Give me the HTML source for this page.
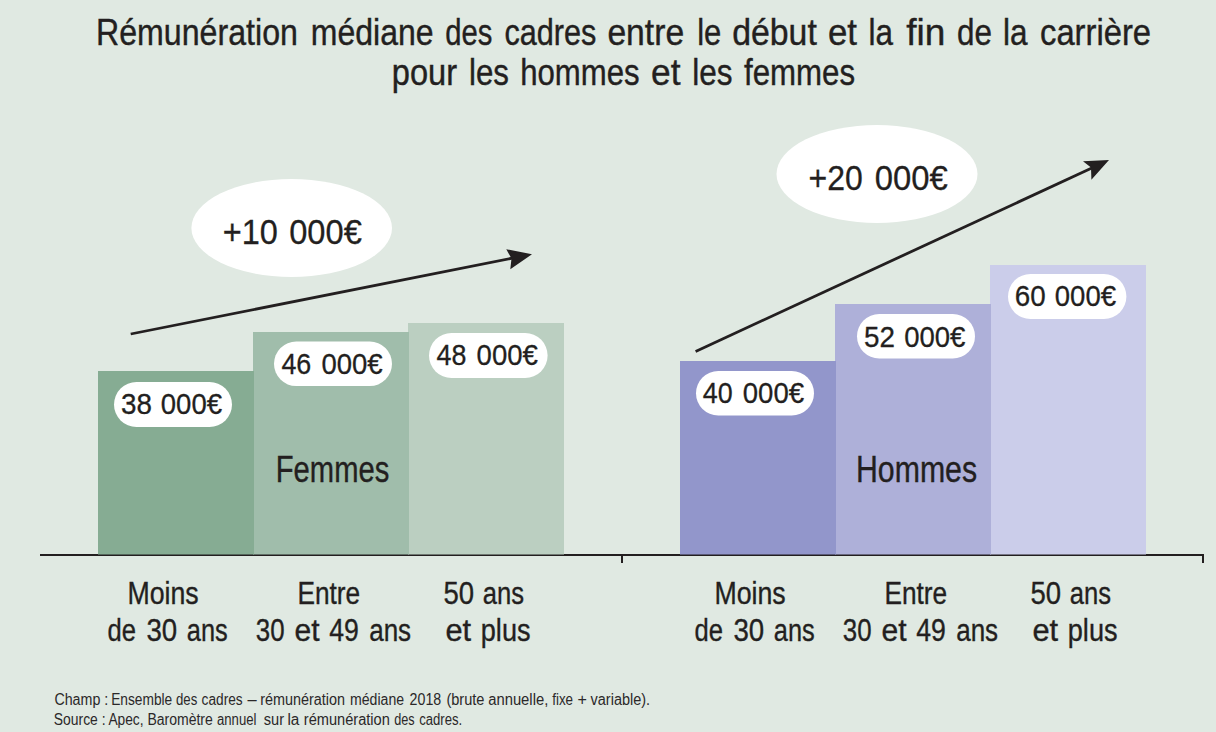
<!DOCTYPE html>
<html><head><meta charset="utf-8">
<style>
html,body{margin:0;padding:0;background:#e0e9e2;}
body{width:1216px;height:732px;overflow:hidden;}
svg{display:block;}
text{font-family:"Liberation Sans",sans-serif;}
</style></head><body>
<svg width="1216" height="732" viewBox="0 0 1216 732">
<rect x="0" y="0" width="1216" height="732" fill="#e0e9e2"/>
<rect x="40" y="554" width="1164" height="2" fill="#231f20"/>
<rect x="621" y="554" width="2" height="9" fill="#231f20"/>
<rect x="1202" y="554" width="2" height="9" fill="#231f20"/>
<rect x="408" y="323" width="156" height="231.5" fill="#bbcfc1"/>
<rect x="253" y="332" width="156" height="222.5" fill="#a0bdab"/>
<rect x="98" y="371" width="156" height="183.5" fill="#86ac93"/>
<rect x="990" y="265" width="156" height="289.5" fill="#cbcdea"/>
<rect x="835" y="304" width="156" height="250.5" fill="#aeb0d9"/>
<rect x="680" y="361" width="156" height="193.5" fill="#9296cb"/>
<rect x="114" y="382" width="118" height="45" rx="22.5" fill="#fff"/>
<rect x="274" y="341.6" width="118" height="44.5" rx="22.25" fill="#fff"/>
<rect x="429" y="333" width="118.6" height="45" rx="22.5" fill="#fff"/>
<rect x="696" y="371" width="118" height="44.5" rx="22.25" fill="#fff"/>
<rect x="857" y="314" width="118" height="44.5" rx="22.25" fill="#fff"/>
<rect x="1008" y="274" width="118.4" height="45" rx="22.5" fill="#fff"/>
<ellipse cx="291.7" cy="228" rx="100.3" ry="49" fill="#fff"/>
<ellipse cx="877" cy="174" rx="100.5" ry="49" fill="#fff"/>
<line x1="130.7" y1="334" x2="515" y2="257.6" stroke="#231f20" stroke-width="2.8"/>
<polygon points="532,254.2 506.3,249.2 511.5,258.6 510.3,269.2" fill="#231f20"/>
<line x1="695.6" y1="351.5" x2="1094" y2="167" stroke="#231f20" stroke-width="2.8"/>
<polygon points="1109,160 1083,161.3 1091,167.5 1091.4,179.75" fill="#231f20"/>
<text x="96.00" y="44.7" font-size="36" fill="#231f20" stroke="#231f20" stroke-width="0.4" textLength="201.89" lengthAdjust="spacingAndGlyphs">Rémunération</text>
<text x="310.80" y="44.7" font-size="36" fill="#231f20" stroke="#231f20" stroke-width="0.4" textLength="122.71" lengthAdjust="spacingAndGlyphs">médiane</text>
<text x="445.20" y="44.7" font-size="36" fill="#231f20" stroke="#231f20" stroke-width="0.4" textLength="47.09" lengthAdjust="spacingAndGlyphs">des</text>
<text x="504.40" y="44.7" font-size="36" fill="#231f20" stroke="#231f20" stroke-width="0.4" textLength="91.88" lengthAdjust="spacingAndGlyphs">cadres</text>
<text x="607.40" y="44.7" font-size="36" fill="#231f20" stroke="#231f20" stroke-width="0.4" textLength="76.72" lengthAdjust="spacingAndGlyphs">entre</text>
<text x="697.20" y="44.7" font-size="36" fill="#231f20" stroke="#231f20" stroke-width="0.4" textLength="24.12" lengthAdjust="spacingAndGlyphs">le</text>
<text x="732.20" y="44.7" font-size="36" fill="#231f20" stroke="#231f20" stroke-width="0.4" textLength="84.62" lengthAdjust="spacingAndGlyphs">début</text>
<text x="828.00" y="44.7" font-size="36" fill="#231f20" stroke="#231f20" stroke-width="0.4" textLength="29.04" lengthAdjust="spacingAndGlyphs">et</text>
<text x="868.60" y="44.7" font-size="36" fill="#231f20" stroke="#231f20" stroke-width="0.4" textLength="24.49" lengthAdjust="spacingAndGlyphs">la</text>
<text x="906.20" y="44.7" font-size="36" fill="#231f20" stroke="#231f20" stroke-width="0.4" textLength="39.08" lengthAdjust="spacingAndGlyphs">fin</text>
<text x="957.00" y="44.7" font-size="36" fill="#231f20" stroke="#231f20" stroke-width="0.4" textLength="34.93" lengthAdjust="spacingAndGlyphs">de</text>
<text x="1003.00" y="44.7" font-size="36" fill="#231f20" stroke="#231f20" stroke-width="0.4" textLength="24.54" lengthAdjust="spacingAndGlyphs">la</text>
<text x="1040.00" y="44.7" font-size="36" fill="#231f20" stroke="#231f20" stroke-width="0.4" textLength="111.04" lengthAdjust="spacingAndGlyphs">carrière</text>
<text x="391.80" y="84.5" font-size="36" fill="#231f20" stroke="#231f20" stroke-width="0.4" textLength="65.25" lengthAdjust="spacingAndGlyphs">pour</text>
<text x="469.00" y="84.5" font-size="36" fill="#231f20" stroke="#231f20" stroke-width="0.4" textLength="39.94" lengthAdjust="spacingAndGlyphs">les</text>
<text x="520.20" y="84.5" font-size="36" fill="#231f20" stroke="#231f20" stroke-width="0.4" textLength="119.47" lengthAdjust="spacingAndGlyphs">hommes</text>
<text x="651.00" y="84.5" font-size="36" fill="#231f20" stroke="#231f20" stroke-width="0.4" textLength="29.44" lengthAdjust="spacingAndGlyphs">et</text>
<text x="692.20" y="84.5" font-size="36" fill="#231f20" stroke="#231f20" stroke-width="0.4" textLength="40.29" lengthAdjust="spacingAndGlyphs">les</text>
<text x="744.00" y="84.5" font-size="36" fill="#231f20" stroke="#231f20" stroke-width="0.4" textLength="111.01" lengthAdjust="spacingAndGlyphs">femmes</text>
<text x="121.00" y="414" font-size="29.5" fill="#231f20" stroke="#231f20" stroke-width="0.3" textLength="30.95" lengthAdjust="spacingAndGlyphs">38</text>
<text x="160.80" y="414" font-size="29.5" fill="#231f20" stroke="#231f20" stroke-width="0.3" textLength="61.23" lengthAdjust="spacingAndGlyphs">000€</text>
<text x="281.40" y="373.8" font-size="29.5" fill="#231f20" stroke="#231f20" stroke-width="0.3" textLength="29.92" lengthAdjust="spacingAndGlyphs">46</text>
<text x="321.40" y="373.8" font-size="29.5" fill="#231f20" stroke="#231f20" stroke-width="0.3" textLength="61.23" lengthAdjust="spacingAndGlyphs">000€</text>
<text x="436.60" y="365" font-size="29.5" fill="#231f20" stroke="#231f20" stroke-width="0.3" textLength="29.88" lengthAdjust="spacingAndGlyphs">48</text>
<text x="476.60" y="365" font-size="29.5" fill="#231f20" stroke="#231f20" stroke-width="0.3" textLength="61.23" lengthAdjust="spacingAndGlyphs">000€</text>
<text x="702.80" y="403.2" font-size="29.5" fill="#231f20" stroke="#231f20" stroke-width="0.3" textLength="29.92" lengthAdjust="spacingAndGlyphs">40</text>
<text x="742.80" y="403.2" font-size="29.5" fill="#231f20" stroke="#231f20" stroke-width="0.3" textLength="61.23" lengthAdjust="spacingAndGlyphs">000€</text>
<text x="864.00" y="346.5" font-size="29.5" fill="#231f20" stroke="#231f20" stroke-width="0.3" textLength="30.95" lengthAdjust="spacingAndGlyphs">52</text>
<text x="904.20" y="346.5" font-size="29.5" fill="#231f20" stroke="#231f20" stroke-width="0.3" textLength="61.23" lengthAdjust="spacingAndGlyphs">000€</text>
<text x="1014.80" y="306" font-size="29.5" fill="#231f20" stroke="#231f20" stroke-width="0.3" textLength="30.95" lengthAdjust="spacingAndGlyphs">60</text>
<text x="1054.80" y="306" font-size="29.5" fill="#231f20" stroke="#231f20" stroke-width="0.3" textLength="61.23" lengthAdjust="spacingAndGlyphs">000€</text>
<text x="275.80" y="481.7" font-size="37" fill="#231f20" stroke="#231f20" stroke-width="0.4" textLength="113.48" lengthAdjust="spacingAndGlyphs">Femmes</text>
<text x="856.00" y="481.8" font-size="37" fill="#231f20" stroke="#231f20" stroke-width="0.4" textLength="121.08" lengthAdjust="spacingAndGlyphs">Hommes</text>
<text x="222.80" y="244.2" font-size="35" fill="#231f20" stroke="#231f20" stroke-width="0.3" textLength="55.14" lengthAdjust="spacingAndGlyphs">+10</text>
<text x="289.20" y="244.2" font-size="35" fill="#231f20" stroke="#231f20" stroke-width="0.3" textLength="72.65" lengthAdjust="spacingAndGlyphs">000€</text>
<text x="808.60" y="190.4" font-size="35" fill="#231f20" stroke="#231f20" stroke-width="0.3" textLength="54.30" lengthAdjust="spacingAndGlyphs">+20</text>
<text x="874.80" y="190.4" font-size="35" fill="#231f20" stroke="#231f20" stroke-width="0.3" textLength="73.04" lengthAdjust="spacingAndGlyphs">000€</text>
<text x="127.40" y="603.8" font-size="31" fill="#231f20" stroke="#231f20" stroke-width="0.35" textLength="71.31" lengthAdjust="spacingAndGlyphs">Moins</text>
<text x="107.60" y="641" font-size="31" fill="#231f20" stroke="#231f20" stroke-width="0.35" textLength="28.48" lengthAdjust="spacingAndGlyphs">de</text>
<text x="146.40" y="641" font-size="31" fill="#231f20" stroke="#231f20" stroke-width="0.35" textLength="30.74" lengthAdjust="spacingAndGlyphs">30</text>
<text x="186.80" y="641" font-size="31" fill="#231f20" stroke="#231f20" stroke-width="0.35" textLength="40.89" lengthAdjust="spacingAndGlyphs">ans</text>
<text x="297.40" y="604" font-size="31" fill="#231f20" stroke="#231f20" stroke-width="0.35" textLength="62.75" lengthAdjust="spacingAndGlyphs">Entre</text>
<text x="255.80" y="640.8" font-size="31" fill="#231f20" stroke="#231f20" stroke-width="0.35" textLength="28.76" lengthAdjust="spacingAndGlyphs">30</text>
<text x="294.60" y="640.8" font-size="31" fill="#231f20" stroke="#231f20" stroke-width="0.35" textLength="25.08" lengthAdjust="spacingAndGlyphs">et</text>
<text x="329.20" y="640.8" font-size="31" fill="#231f20" stroke="#231f20" stroke-width="0.35" textLength="29.68" lengthAdjust="spacingAndGlyphs">49</text>
<text x="369.20" y="640.8" font-size="31" fill="#231f20" stroke="#231f20" stroke-width="0.35" textLength="41.93" lengthAdjust="spacingAndGlyphs">ans</text>
<text x="443.40" y="603.8" font-size="31" fill="#231f20" stroke="#231f20" stroke-width="0.35" textLength="30.61" lengthAdjust="spacingAndGlyphs">50</text>
<text x="482.80" y="603.8" font-size="31" fill="#231f20" stroke="#231f20" stroke-width="0.35" textLength="41.28" lengthAdjust="spacingAndGlyphs">ans</text>
<text x="445.40" y="641" font-size="31" fill="#231f20" stroke="#231f20" stroke-width="0.35" textLength="25.68" lengthAdjust="spacingAndGlyphs">et</text>
<text x="480.80" y="641" font-size="31" fill="#231f20" stroke="#231f20" stroke-width="0.35" textLength="49.73" lengthAdjust="spacingAndGlyphs">plus</text>
<text x="714.40" y="603.8" font-size="31" fill="#231f20" stroke="#231f20" stroke-width="0.35" textLength="71.31" lengthAdjust="spacingAndGlyphs">Moins</text>
<text x="694.60" y="641" font-size="31" fill="#231f20" stroke="#231f20" stroke-width="0.35" textLength="28.48" lengthAdjust="spacingAndGlyphs">de</text>
<text x="733.40" y="641" font-size="31" fill="#231f20" stroke="#231f20" stroke-width="0.35" textLength="30.74" lengthAdjust="spacingAndGlyphs">30</text>
<text x="773.80" y="641" font-size="31" fill="#231f20" stroke="#231f20" stroke-width="0.35" textLength="40.89" lengthAdjust="spacingAndGlyphs">ans</text>
<text x="884.40" y="604" font-size="31" fill="#231f20" stroke="#231f20" stroke-width="0.35" textLength="62.75" lengthAdjust="spacingAndGlyphs">Entre</text>
<text x="842.80" y="640.8" font-size="31" fill="#231f20" stroke="#231f20" stroke-width="0.35" textLength="28.76" lengthAdjust="spacingAndGlyphs">30</text>
<text x="881.60" y="640.8" font-size="31" fill="#231f20" stroke="#231f20" stroke-width="0.35" textLength="25.08" lengthAdjust="spacingAndGlyphs">et</text>
<text x="916.20" y="640.8" font-size="31" fill="#231f20" stroke="#231f20" stroke-width="0.35" textLength="29.68" lengthAdjust="spacingAndGlyphs">49</text>
<text x="956.20" y="640.8" font-size="31" fill="#231f20" stroke="#231f20" stroke-width="0.35" textLength="41.93" lengthAdjust="spacingAndGlyphs">ans</text>
<text x="1030.40" y="603.8" font-size="31" fill="#231f20" stroke="#231f20" stroke-width="0.35" textLength="30.61" lengthAdjust="spacingAndGlyphs">50</text>
<text x="1069.80" y="603.8" font-size="31" fill="#231f20" stroke="#231f20" stroke-width="0.35" textLength="41.28" lengthAdjust="spacingAndGlyphs">ans</text>
<text x="1032.40" y="641" font-size="31" fill="#231f20" stroke="#231f20" stroke-width="0.35" textLength="25.68" lengthAdjust="spacingAndGlyphs">et</text>
<text x="1067.80" y="641" font-size="31" fill="#231f20" stroke="#231f20" stroke-width="0.35" textLength="49.73" lengthAdjust="spacingAndGlyphs">plus</text>
<text x="54.40" y="705" font-size="16" fill="#2b2829" textLength="53.88" lengthAdjust="spacingAndGlyphs">Champ :</text>
<text x="111.20" y="705" font-size="16" fill="#2b2829" textLength="61.05" lengthAdjust="spacingAndGlyphs">Ensemble</text>
<text x="176.00" y="705" font-size="16" fill="#2b2829" textLength="21.28" lengthAdjust="spacingAndGlyphs">des</text>
<text x="201.60" y="705" font-size="16" fill="#2b2829" textLength="41.03" lengthAdjust="spacingAndGlyphs">cadres</text>
<text x="247.40" y="705" font-size="16" fill="#2b2829" textLength="9.17" lengthAdjust="spacingAndGlyphs">–</text>
<text x="260.20" y="705" font-size="16" fill="#2b2829" textLength="84.84" lengthAdjust="spacingAndGlyphs">rémunération</text>
<text x="350.00" y="705" font-size="16" fill="#2b2829" textLength="54.05" lengthAdjust="spacingAndGlyphs">médiane</text>
<text x="409.60" y="705" font-size="16" fill="#2b2829" textLength="31.64" lengthAdjust="spacingAndGlyphs">2018</text>
<text x="446.40" y="705" font-size="16" fill="#2b2829" textLength="38.08" lengthAdjust="spacingAndGlyphs">(brute</text>
<text x="488.20" y="705" font-size="16" fill="#2b2829" textLength="60.10" lengthAdjust="spacingAndGlyphs">annuelle,</text>
<text x="552.20" y="705" font-size="16" fill="#2b2829" textLength="20.87" lengthAdjust="spacingAndGlyphs">fixe</text>
<text x="577.40" y="705" font-size="16" fill="#2b2829" textLength="9.42" lengthAdjust="spacingAndGlyphs">+</text>
<text x="590.60" y="705" font-size="16" fill="#2b2829" textLength="59.43" lengthAdjust="spacingAndGlyphs">variable).</text>
<text x="53.80" y="724.7" font-size="16" fill="#2b2829" textLength="51.74" lengthAdjust="spacingAndGlyphs">Source :</text>
<text x="108.40" y="724.7" font-size="16" fill="#2b2829" textLength="35.12" lengthAdjust="spacingAndGlyphs">Apec,</text>
<text x="147.40" y="724.7" font-size="16" fill="#2b2829" textLength="65.45" lengthAdjust="spacingAndGlyphs">Baromètre</text>
<text x="217.00" y="724.7" font-size="16" fill="#2b2829" textLength="39.45" lengthAdjust="spacingAndGlyphs">annuel</text>
<text x="263.80" y="724.7" font-size="16" fill="#2b2829" textLength="20.31" lengthAdjust="spacingAndGlyphs">sur</text>
<text x="287.40" y="724.7" font-size="16" fill="#2b2829" textLength="11.92" lengthAdjust="spacingAndGlyphs">la</text>
<text x="303.80" y="724.7" font-size="16" fill="#2b2829" textLength="86.05" lengthAdjust="spacingAndGlyphs">rémunération</text>
<text x="394.20" y="724.7" font-size="16" fill="#2b2829" textLength="20.43" lengthAdjust="spacingAndGlyphs">des</text>
<text x="419.20" y="724.7" font-size="16" fill="#2b2829" textLength="43.05" lengthAdjust="spacingAndGlyphs">cadres.</text>
</svg>
</body></html>
